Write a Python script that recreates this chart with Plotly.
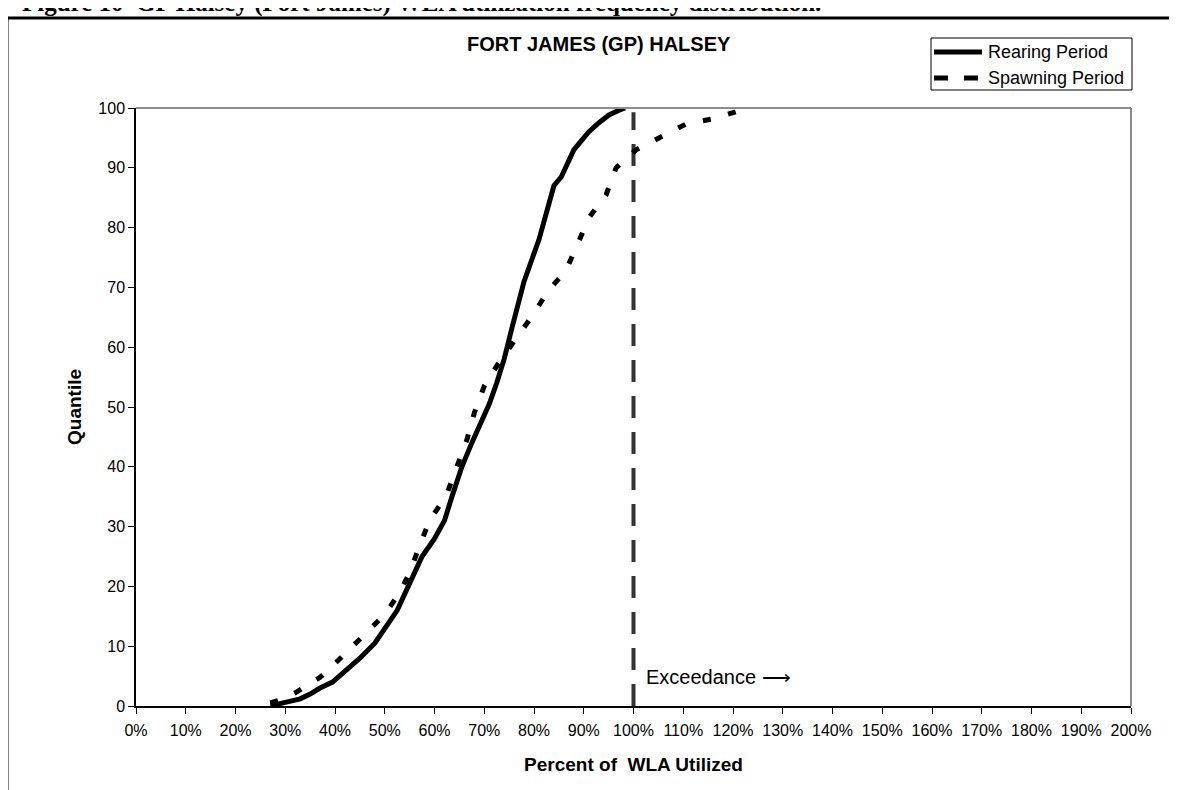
import plotly.graph_objects as go

# ---- data ----
rearing_x = [27, 28.5, 30, 33, 35, 37, 39.5, 42, 45, 48, 50, 52.5, 55, 57.5, 60, 62, 63.5, 65.5,
             67.5, 69.5, 71, 72.5, 74, 75.5, 77, 78, 79.5, 81, 82, 83, 84, 85.5, 87, 88, 89.5,
             91, 93, 95, 97, 98.3]
rearing_y = [0.3, 0.3, 0.6, 1.2, 2, 3, 4, 5.7, 8, 10.5, 13, 16, 20.5, 25, 28, 31, 35, 40,
             44, 47.5, 50.5, 54, 58, 63, 67.5, 71, 74.5, 78, 81, 84, 87, 88.5, 91, 93, 94.5,
             96, 97.5, 98.8, 99.6, 100]

spawning_x = [27, 29, 32, 34.5, 37, 39, 41, 43, 45, 47, 49, 51, 53, 55, 57, 59, 61, 62.5, 64.5,
              66.5, 68, 70, 73, 76.5, 79.8, 82.8, 86.4, 88.8, 91, 94.5, 96.5, 100.5, 105, 110.5,
              116, 121, 123]
spawning_y = [0.5, 1, 2.2, 3.5, 4.8, 6.3, 7.9, 9.5, 11, 12.8, 14.5, 16.5, 19, 22.3, 26.8, 31,
              33.5, 35.5, 40, 44.5, 49, 53.5, 57.5, 61.5, 65.4, 69.4, 72.8, 77.3, 81.6, 85.5, 90,
              93, 95, 97.3, 98.2, 99.5, 100]

limit_x = [100, 100]
limit_y = [0, 99.3]

x_ticks = list(range(0, 201, 10))
x_tick_labels = [f"{v}%" for v in x_ticks]
y_ticks = list(range(0, 101, 10))

series_names = ["Rearing Period", "Spawning Period"]
title_text = "FORT JAMES (GP) HALSEY"
caption_text = "Figure 10  GP Halsey (Fort James) WLA utilization frequency distribution."

# ---- layout geometry (screen pixels; page body adds an 8px offset) ----
OFF = 8
W, H = 1177 - OFF, 790 - OFF
L, R, T, B = 136, 1131, 108, 706          # plot area in screen pixels
def px(x):
    return (x - L) / (R - L)
def py(y):
    return (B - y) / (B - T)

SANS = "Liberation Sans, Arial, sans-serif"
SERIF = "Liberation Serif, Times New Roman, serif"

fig = go.Figure()
fig.add_trace(go.Scatter(x=limit_x, y=limit_y, mode="lines",
                         line=dict(color="#333333", width=4, dash="22px,14px"),
                         showlegend=False, hoverinfo="skip"))
fig.add_trace(go.Scatter(x=rearing_x, y=rearing_y, mode="lines", name=series_names[0],
                         line=dict(color="black", width=5), showlegend=False))
fig.add_trace(go.Scatter(x=spawning_x, y=spawning_y, mode="lines", name=series_names[1],
                         line=dict(color="black", width=5, dash="8px,18px"), showlegend=False))

shapes = []
# grey top / right border of plot area
shapes.append(dict(type="line", xref="paper", yref="paper", x0=0, x1=1, y0=1, y1=1,
                   line=dict(color="#8c8c8c", width=2)))
shapes.append(dict(type="line", xref="paper", yref="paper", x0=1, x1=1, y0=0, y1=1,
                   line=dict(color="#8c8c8c", width=2)))
# page frame (left and top)
shapes.append(dict(type="line", xref="paper", yref="paper", x0=px(7), x1=px(7),
                   y0=py(18), y1=py(800), line=dict(color="black", width=3)))
shapes.append(dict(type="line", xref="paper", yref="paper", x0=px(6), x1=px(1190),
                   y0=py(18), y1=py(18), line=dict(color="black", width=3)))
# custom legend
shapes.append(dict(type="rect", xref="paper", yref="paper", x0=px(931), x1=px(1132),
                   y0=py(90), y1=py(38), line=dict(color="black", width=1),
                   fillcolor="white"))
shapes.append(dict(type="line", xref="paper", yref="paper", x0=px(934), x1=px(982),
                   y0=py(52), y1=py(52), line=dict(color="black", width=5)))
shapes.append(dict(type="line", xref="paper", yref="paper", x0=px(934), x1=px(982),
                   y0=py(78), y1=py(78), line=dict(color="black", width=5, dash="14px,16px")))

annotations = [
    dict(text=f"<b>{caption_text}</b>", xref="paper", yref="paper", x=px(20), y=py(19),
         xanchor="left", yanchor="bottom", showarrow=False,
         font=dict(family=SERIF, size=25, color="black")),
    dict(text=f"<b>{title_text}</b>", xref="paper", yref="paper", x=px(599), y=py(44),
         xanchor="center", yanchor="middle", showarrow=False,
         font=dict(family=SANS, size=20, color="black")),
    dict(text=series_names[0], xref="paper", yref="paper", x=px(986), y=py(52),
         xanchor="left", yanchor="middle", showarrow=False,
         font=dict(family=SANS, size=18, color="black")),
    dict(text=series_names[1], xref="paper", yref="paper", x=px(986), y=py(78),
         xanchor="left", yanchor="middle", showarrow=False,
         font=dict(family=SANS, size=18, color="black")),
    dict(text="Exceedance \u27f6", xref="paper", yref="paper", x=px(644), y=py(677),
         xanchor="left", yanchor="middle", showarrow=False,
         font=dict(family=SANS, size=20, color="black")),
]

fig.update_layout(
    width=W, height=H,
    margin=dict(l=L - OFF, r=W - (R - OFF), t=T - OFF, b=H - (B - OFF)),
    paper_bgcolor="white", plot_bgcolor="white",
    showlegend=False,
    shapes=shapes, annotations=annotations,
    font=dict(family=SANS, color="black"),
    xaxis=dict(range=[0, 200], tickmode="array", tickvals=x_ticks, ticktext=x_tick_labels,
               showgrid=False, zeroline=False, showline=True, linecolor="black", linewidth=1.5,
               ticks="outside", ticklen=6, tickcolor="black", tickwidth=1,
               ticklabelstandoff=3,
               tickfont=dict(family=SANS, size=16, color="black"),
               title=dict(text="<b>Percent of  WLA Utilized</b>",
                          font=dict(family=SANS, size=19, color="black"), standoff=20)),
    yaxis=dict(range=[0, 100], tickmode="array", tickvals=y_ticks,
               showgrid=False, zeroline=False, showline=True, linecolor="black", linewidth=1.5,
               ticks="outside", ticklen=6, tickcolor="black", tickwidth=1,
               tickfont=dict(family=SANS, size=16, color="black"),
               title=dict(text="<b>Quantile</b>",
                          font=dict(family=SANS, size=19, color="black"), standoff=12)),
)

fig.write_html("out.html")
